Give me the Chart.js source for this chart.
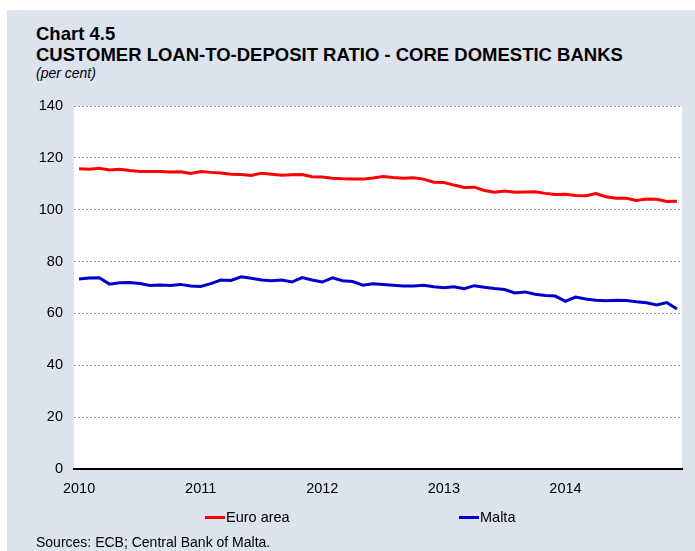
<!DOCTYPE html>
<html>
<head>
<meta charset="utf-8">
<script src="https://cdn.jsdelivr.net/npm/chart.js@4/dist/chart.umd.min.js"></script>
<style>
  body { margin: 0; width: 695px; height: 551px; background: #fff; position: relative; overflow: hidden; font-family: "Liberation Sans", Arial, sans-serif; }
  .panel { position: absolute; left: 7px; top: 10px; width: 688px; height: 541px; background: #dce3ef; }
  .txt { position: absolute; white-space: nowrap; color: #000; line-height: 1; }
  #chartWrap { position: absolute; left: 0; top: 0; width: 695px; height: 551px; }
  .leg { position: absolute; top: 509px; font-size: 14.5px; line-height: 16px; display: flex; align-items: center; }
  .leg span.sw { display: inline-block; width: 20px; height: 3px; margin-right: 1px; }
</style>
</head>
<body>
<div class="panel"></div>
<div class="txt" style="left:36px; top:25px; font-size:18.5px; font-weight:bold;">Chart 4.5</div>
<div class="txt" style="left:36px; top:46px; font-size:18.5px; font-weight:bold;">CUSTOMER LOAN-TO-DEPOSIT RATIO - CORE DOMESTIC BANKS</div>
<div class="txt" style="left:36px; top:66px; font-size:14px; font-style:italic;">(per cent)</div>
<div id="chartWrap"><canvas id="chart" width="695" height="551"></canvas></div>
<div class="leg" style="left:205px;"><span class="sw" style="background:#ff0000"></span>Euro area</div>
<div class="leg" style="left:459px;"><span class="sw" style="background:#0000cc"></span>Malta</div>
<div class="txt" style="left:36px; top:535px; font-size:14px;">Sources: ECB; Central Bank of Malta.</div>
<script>
// monthly observations, Jan 2010 - Dec 2014
const months = [];
for (let y = 2010; y <= 2014; y++) {
  for (let m = 1; m <= 12; m++) months.push(y + '-' + (m < 10 ? '0' + m : m));
}
const yearTicks = ['2010', '2011', '2012', '2013', '2014'];

const euroArea = [
  115.8, 115.6, 116.0, 115.3, 115.6, 115.1, 114.7, 114.7, 114.7, 114.5, 114.6, 114.0,
  114.7, 114.4, 114.2, 113.7, 113.6, 113.2, 114.1, 113.7, 113.3, 113.5, 113.6, 112.7,
  112.6, 112.1, 111.9, 111.8, 111.8, 112.2, 112.8, 112.4, 112.1, 112.3, 111.8, 110.6,
  110.5, 109.5, 108.6, 108.7, 107.4, 106.7, 107.2, 106.7, 106.8, 106.9, 106.3, 105.9,
  106.0, 105.5, 105.4, 106.2, 105.0, 104.4, 104.4, 103.6, 104.1, 104.0, 103.2, 103.3
];
const malta = [
  73.3, 73.7, 73.8, 71.3, 71.8, 71.9, 71.5, 70.8, 71.0, 70.8, 71.2, 70.6,
  70.4, 71.5, 72.9, 72.7, 74.1, 73.6, 72.9, 72.6, 72.9, 72.1, 73.8, 72.9,
  72.1, 73.7, 72.6, 72.3, 70.9, 71.4, 71.2, 70.9, 70.6, 70.6, 70.9, 70.3,
  69.9, 70.3, 69.5, 70.7, 70.1, 69.6, 69.2, 67.9, 68.3, 67.4, 66.9, 66.7,
  64.7, 66.3, 65.6, 65.1, 64.9, 65.1, 65.0, 64.5, 64.1, 63.3, 64.2, 61.7
];

const plotBg = {
  id: 'plotBg',
  beforeDraw(chart) {
    const { ctx, chartArea: a } = chart;
    ctx.save();
    ctx.fillStyle = '#ffffff';
    ctx.fillRect(a.left, a.top, a.right - a.left, a.bottom - a.top);
    ctx.restore();
  }
};

new Chart(document.getElementById('chart'), {
  type: 'line',
  data: {
    labels: months,
    datasets: [
      { label: 'Euro area', data: euroArea, borderColor: '#ff0000', borderWidth: 3, pointRadius: 0, tension: 0 },
      { label: 'Malta', data: malta, borderColor: '#0000cc', borderWidth: 3, pointRadius: 0, tension: 0 }
    ]
  },
  options: {
    responsive: false,
    animation: false,
    layout: { padding: { left: 0, top: 106, right: 13, bottom: 52 } },
    plugins: { legend: { display: false }, tooltip: { enabled: false } },
    scales: {
      x: {
        offset: true,
        grid: { display: false },
        border: { display: true, color: '#000', width: 2 },
        ticks: {
          autoSkip: false, maxRotation: 0, color: '#000', padding: 3,
          font: { family: 'Liberation Sans', size: 14.5 },
          callback: (v, i) => (i % 12 === 0 ? yearTicks[i / 12] : '')
        },
        afterFit: s => { s.height = 30; }
      },
      y: {
        min: 0, max: 140,
        grid: { color: '#9a9a9a', lineWidth: 1, drawTicks: false },
        border: { display: false, dash: [2, 2] },
        ticks: {
          stepSize: 20, color: '#000', padding: 11,
          font: { family: 'Liberation Sans', size: 14.5 }
        },
        afterFit: s => { s.width = 74; }
      }
    }
  },
  plugins: [plotBg]
});
</script>
</body>
</html>
